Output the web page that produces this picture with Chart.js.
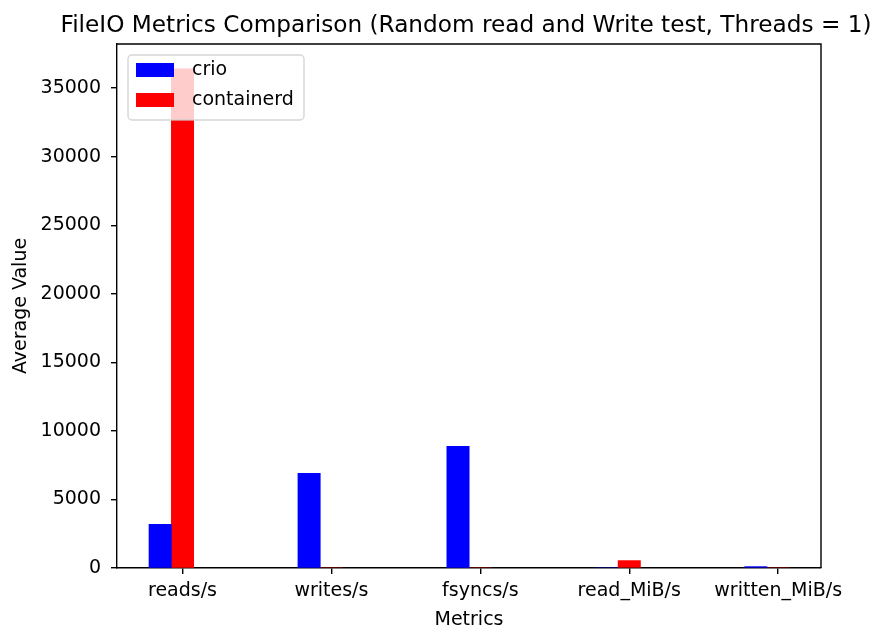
<!DOCTYPE html>
<html>
<head>
<meta charset="utf-8">
<script src="https://cdn.jsdelivr.net/npm/chart.js@4"></script>
<style>
  html, body { margin: 0; padding: 0; background: #fff; }
  #wrap { width: 884px; height: 631px; }
</style>
</head>
<body>
<div id="wrap"><canvas id="fileioChart" width="884" height="631"></canvas></div>
<script>
// metric names on the x axis
const metrics = ['reads/s', 'writes/s', 'fsyncs/s', 'read_MiB/s', 'written_MiB/s'];
// average values per runtime
const crioValues = [3180, 6910, 8880, 0, 100];
const containerdValues = [36400, 0, 0, 540, 0];
// y axis tick values
const yTicks = [0, 5000, 10000, 15000, 20000, 25000, 30000, 35000];

const TITLE = 'FileIO Metrics Comparison (Random read and Write test, Threads = 1)';
const FONT = 'DejaVu Sans';
const barWidth = 0.15;

// matplotlib style: crio at x - width, containerd at x
const crioPoints = crioValues.map((v, i) => ({ x: i - barWidth, y: v }));
const containerdPoints = containerdValues.map((v, i) => ({ x: i, y: v }));

const yMax = Math.max(...crioValues, ...containerdValues) * 1.05;

// top and right spines + title centred over the axes
const frame = {
    id: 'frame',
    afterDatasetsDraw(chart) {
        const { ctx, chartArea: a } = chart;
        ctx.save();
        ctx.strokeStyle = '#000';
        ctx.lineWidth = 1.4;
        ctx.beginPath();
        ctx.moveTo(a.left, a.top);
        ctx.lineTo(a.right, a.top);
        ctx.lineTo(a.right, a.bottom);
        ctx.stroke();
        ctx.fillStyle = '#000';
        ctx.font = '23.2px "' + FONT + '"';
        ctx.textAlign = 'center';
        ctx.textBaseline = 'alphabetic';
        ctx.fillText(TITLE, (a.left + a.right) / 2 - 3, a.top - 12);
        ctx.restore();
    }
};

// legend drawn inside the axes, on top of the bars (semi transparent frame)
const insideLegend = {
    id: 'insideLegend',
    afterDatasetsDraw(chart) {
        const { ctx, chartArea } = chart;
        const x0 = chartArea.left + 11, y0 = chartArea.top + 11;
        const w = 176, h = 65;
        ctx.save();
        ctx.beginPath();
        ctx.roundRect(x0, y0, w, h, 4);
        ctx.fillStyle = 'rgba(255,255,255,0.8)';
        ctx.fill();
        ctx.strokeStyle = 'rgba(204,204,204,0.8)';
        ctx.lineWidth = 1.4;
        ctx.stroke();
        ctx.font = '19px "' + FONT + '"';
        ctx.textBaseline = 'middle';
        chart.data.datasets.forEach((ds, i) => {
            const cy = y0 + 15 + i * 30;
            ctx.fillStyle = ds.backgroundColor;
            ctx.fillRect(x0 + 8, cy - 7, 38, 14);
            ctx.fillStyle = '#000';
            ctx.fillText(ds.label, x0 + 64, cy);
        });
        ctx.restore();
    }
};

new Chart(document.getElementById('fileioChart').getContext('2d'), {
    type: 'bar',
    data: {
        datasets: [{
            label: 'crio',
            data: crioPoints,
            backgroundColor: '#0000ff'
        }, {
            label: 'containerd',
            data: containerdPoints,
            backgroundColor: '#ff0000'
        }]
    },
    options: {
        responsive: false,
        animation: false,
        grouped: false,
        barPercentage: 1,
        categoryPercentage: 1,
        layout: { padding: { left: 0, right: 63, top: 44, bottom: 0 } },
        plugins: {
            legend: { display: false },
            tooltip: { enabled: false },
            title: { display: false }
        },
        scales: {
            x: {
                type: 'linear',
                offset: false,
                min: -0.44,
                max: 4.2875,
                afterBuildTicks: s => { s.ticks = metrics.map((m, i) => ({ value: i })); },
                afterFit: s => { s.height = 63; },
                ticks: {
                    callback: v => metrics[v],
                    color: '#000',
                    font: { family: FONT, size: 19 },
                    padding: 6,
                    maxRotation: 0,
                    autoSkip: false
                },
                grid: { offset: false, drawOnChartArea: false, drawTicks: true, tickLength: 6, color: '#000', lineWidth: 1.4 },
                border: { color: '#000', width: 1.4 },
                title: {
                    display: true,
                    text: 'Metrics',
                    color: '#000',
                    font: { family: FONT, size: 19 },
                    padding: { top: 0, bottom: 0 }
                }
            },
            y: {
                min: 0,
                max: yMax,
                afterBuildTicks: s => { s.ticks = yTicks.map(v => ({ value: v })); },
                afterFit: s => { s.width = 117; },
                ticks: {
                    callback: v => String(v),
                    color: '#000',
                    font: { family: FONT, size: 19 },
                    padding: 10
                },
                grid: { drawOnChartArea: false, drawTicks: true, tickLength: 6, color: '#000', lineWidth: 1.4 },
                border: { color: '#000', width: 1.4 },
                title: {
                    display: true,
                    text: 'Average Value',
                    color: '#000',
                    font: { family: FONT, size: 19 },
                    padding: { top: 10, bottom: 0 }
                }
            }
        }
    },
    plugins: [frame, insideLegend]
});
</script>
</body>
</html>
